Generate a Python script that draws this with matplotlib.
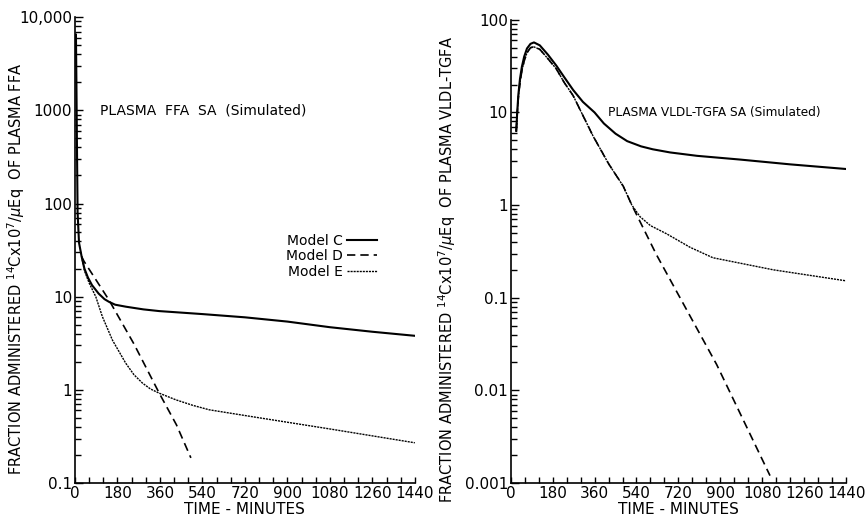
import numpy as np
import matplotlib.pyplot as plt
from matplotlib.ticker import FixedLocator, MultipleLocator, FuncFormatter, LogLocator, NullFormatter

plt.rcParams['font.family'] = ['DejaVu Sans']

# --- Plasma FFA SA (left) ---
ffa_spike_t = [4, 6, 8, 11, 17, 28]
ffa_spike_v = [6500, 2000, 500, 80, 38, 27]

ffa_c_t = [40, 55, 72, 100, 125, 144, 170, 216, 290, 357, 540, 720, 900, 1080, 1260, 1440]
ffa_c_v = [20, 16, 13.3, 10.8, 9.4, 8.8, 8.2, 7.8, 7.3, 7.0, 6.5, 6.0, 5.4, 4.7, 4.2, 3.8]

ffa_d_t = [38, 144, 250, 357, 430, 491]
ffa_d_v = [24, 9.2, 3.1, 0.92, 0.42, 0.186]

ffa_e_t = [40, 60, 88, 116, 159, 215, 250, 286, 320, 357, 428, 500, 569, 782, 1080, 1440]
ffa_e_v = [19, 14, 10, 6.1, 3.4, 1.93, 1.45, 1.18, 1.02, 0.92, 0.78, 0.68, 0.61, 0.50, 0.38, 0.27]

# --- Plasma VLDL-TGFA SA (right) ---
vldl_rise_t = [24, 28, 33, 40, 48, 58, 70, 85, 100, 125, 160, 196, 230, 268, 310]
vldl_c_rise = [6.3, 10, 15.5, 23, 31, 40, 49, 55, 57, 53, 42, 32, 24, 17.5, 13]
vldl_de_rise = [6.3, 9.5, 14.5, 21, 28, 36, 44, 50, 51, 48, 38, 29.5, 21, 15.2, 9.5]

vldl_c_t = [360, 400, 450, 500, 560, 610, 684, 800, 984, 1200, 1440]
vldl_c_v = [10, 7.6, 5.9, 4.9, 4.3, 4.0, 3.7, 3.4, 3.1, 2.75, 2.45]

vldl_d_t = [353, 420, 483, 520, 626, 884, 1113]
vldl_d_v = [5.6, 2.8, 1.6, 1.0, 0.29, 0.019, 0.0012]

vldl_e_t = [353, 420, 483, 520, 555, 600, 669, 770, 868, 1127, 1440]
vldl_e_v = [5.6, 2.8, 1.6, 1.0, 0.75, 0.6, 0.49, 0.35, 0.27, 0.20, 0.152]

ffa_yticks = [0.1, 1, 10, 100, 1000, 10000]
ffa_ylabels = ['0.1', '1', '10', '100', '1000', '10,000']
vldl_yticks = [0.001, 0.01, 0.1, 1, 10, 100]
vldl_ylabels = ['0.001', '0.01', '0.1', '1', '10', '100']

model_labels = ['Model C', 'Model D', 'Model E']

fig = plt.figure(figsize=(8.67, 5.21), dpi=100)
ax1 = fig.add_axes([0.0865, 0.073, 0.392, 0.894])
ax2 = fig.add_axes([0.589, 0.073, 0.387, 0.889])

c_style = dict(color='black', lw=1.5, ls='-')
d_style = dict(color='black', lw=1.2, ls=(0, (5, 3)))
e_style = dict(color='black', lw=1.0, ls=(0, (1.5, 0.7)))

# left panel
ax1.plot(ffa_spike_t + ffa_c_t, ffa_spike_v + ffa_c_v, label=model_labels[0], **c_style)
ax1.plot(ffa_spike_t[-1:] + ffa_d_t, ffa_spike_v[-1:] + ffa_d_v, label=model_labels[1], **d_style)
ax1.plot(ffa_spike_t[-1:] + ffa_e_t, ffa_spike_v[-1:] + ffa_e_v, label=model_labels[2], **e_style)

# right panel
ax2.plot(vldl_rise_t + vldl_c_t, vldl_c_rise + vldl_c_v, **c_style)
ax2.plot(vldl_rise_t[:-1] + vldl_d_t, vldl_de_rise[:-1] + vldl_d_v, **d_style)
ax2.plot(vldl_rise_t[:-1] + vldl_e_t, vldl_de_rise[:-1] + vldl_e_v, **e_style)

for ax, yt, yl, ylim, name, lx in [
    (ax1, ffa_yticks, ffa_ylabels, (0.1, 10000), 'FFA', -0.142),
    (ax2, vldl_yticks, vldl_ylabels, (0.001, 100), 'VLDL-TGFA', -0.158),
]:
    ax.set_yscale('log')
    ax.set_xlim(0, 1440)
    ax.set_ylim(*ylim)
    ax.spines['top'].set_visible(False)
    ax.spines['right'].set_visible(False)
    ax.xaxis.set_major_locator(MultipleLocator(60))
    ax.xaxis.set_major_formatter(FuncFormatter(lambda v, p: f'{int(v)}' if v % 180 == 0 else ''))
    ax.yaxis.set_major_locator(FixedLocator(yt))
    ax.set_yticklabels(yl)
    ax.yaxis.set_minor_locator(LogLocator(base=10, subs=np.arange(2, 10)))
    ax.yaxis.set_minor_formatter(NullFormatter())
    ax.tick_params(axis='both', which='both', direction='in', length=4, width=1,
                   labelsize=11, pad=2)
    ax.tick_params(axis='y', which='major', length=6)
    for s in ('left', 'bottom'):
        ax.spines[s].set_linewidth(1.2)
    ax.set_xlabel('TIME - MINUTES', fontsize=11, labelpad=1)
    ax.set_ylabel('FRACTION ADMINISTERED $^{14}$Cx10$^7$/$\\mu$Eq  OF PLASMA ' + name,
                  fontsize=10.5)
    ax.yaxis.set_label_coords(lx, 0.46)

ax1.text(105, 1000, 'PLASMA  FFA  SA  (Simulated)', fontsize=10, va='center')
ax2.text(418, 10, 'PLASMA VLDL-TGFA SA (Simulated)', fontsize=8.7, va='center')

ax1.legend(loc='upper left', bbox_to_anchor=(0.60, 0.55), frameon=False, markerfirst=False,
           fontsize=10, handlelength=2.2, handletextpad=0.3, labelspacing=0.1,
           borderpad=0)

fig.savefig('out.png', dpi=100)
